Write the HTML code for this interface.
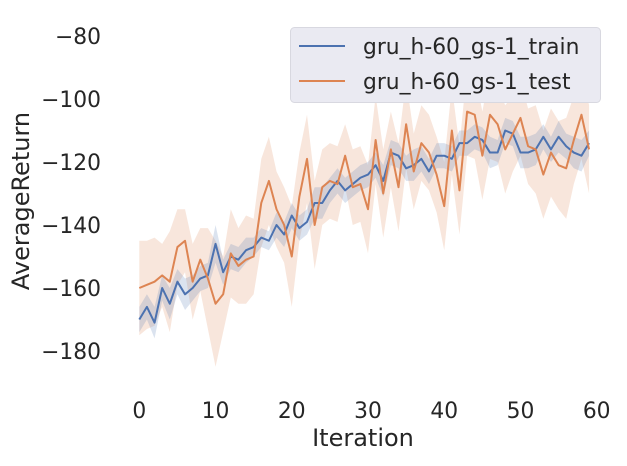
<!DOCTYPE html>
<html><head><meta charset="utf-8"><style>
html,body{margin:0;padding:0;background:#fff;}
svg text{font-family:"DejaVu Sans","Liberation Sans",sans-serif;fill:#262626;}
</style></head><body>
<svg id="chart" width="627" height="461" xmlns="http://www.w3.org/2000/svg">
<g id="bands"></g><g id="lines"></g><g id="axes"></g>
<g>
<rect x="290.5" y="27.5" width="310" height="75" rx="4" fill="#eaeaf2" stroke="#d8d8e0" stroke-width="1"/>
<line x1="299" y1="46" x2="345" y2="46" stroke="#4c72b0" stroke-width="2"/>
<text x="363" y="54" font-size="21.8">gru_h-60_gs-1_train</text>
<line x1="299" y1="81" x2="345" y2="81" stroke="#dd8452" stroke-width="2"/>
<text x="363" y="89" font-size="21.8">gru_h-60_gs-1_test</text>
</g>
</svg>
<script>
const iterations = Array.from({length:60},(_,i)=>i);
const trainMean = [-170,-166,-171,-160,-165,-158,-162,-160,-157,-156,-146,-155,-150,-151,-148,-147,-144,-145,-140,-143,-137,-141,-139,-133,-133,-129,-126,-129,-127,-125,-124,-121,-126,-117,-118,-122,-121,-119,-123,-118,-118,-119,-114,-114,-112,-113,-117,-117,-110,-111,-117,-117,-116,-112,-116,-112,-115,-117,-118,-114];
const trainSpread = [4,4,5,4,5,4,5,4,4,4,6,4,4,4,4,3,3,3,4,4,4,4,4,5,5,4,4,4,4,4,4,4,5,4,4,4,5,4,4,4,4,4,4,4,4,4,5,4,4,4,5,5,5,4,4,5,4,5,5,4];
const testMean = [-160,-159,-158,-156,-158,-147,-145,-158,-151,-157,-165,-162,-149,-153,-151,-150,-133,-126,-135,-140,-150,-131,-119,-140,-128,-126,-127,-118,-128,-127,-135,-113,-130,-116,-128,-108,-123,-114,-117,-124,-134,-110,-129,-104,-105,-118,-105,-108,-116,-111,-106,-115,-116,-124,-117,-121,-122,-113,-105,-116];
const testSpread = [15,14,14,10,16,12,10,12,10,16,20,12,14,12,14,12,14,14,12,12,16,14,14,14,12,12,12,10,12,12,14,14,14,12,14,14,12,12,12,12,14,14,14,14,14,14,14,12,14,12,12,12,14,14,14,14,16,14,14,14];
const xTicks = [0,10,20,30,40,50,60];
const yTicks = [-80,-100,-120,-140,-160,-180];

const sx = v => 139.3 + v*(596.7-139.3)/60;
const sy = v => 36 + (-80 - v)*3.15;
const NS="http://www.w3.org/2000/svg";
function mk(tag, attrs, parent){const e=document.createElementNS(NS,tag);for(const k in attrs)e.setAttribute(k,attrs[k]);parent.appendChild(e);return e;}
const bands=document.getElementById('bands'), lines=document.getElementById('lines'), axes=document.getElementById('axes');
function band(mean, spread, color, name){
  let pts = iterations.map((x,i)=>sx(x)+','+sy(mean[i]+spread[i]));
  pts = pts.concat(iterations.slice().reverse().map(x=>sx(x)+','+sy(mean[x]-spread[x])));
  const p=mk('polygon',{points:pts.join(' '),fill:color,'fill-opacity':0.2},bands);
  
  
}
function line(mean,color,name){
  const p=mk('polyline',{points:iterations.map((x,i)=>sx(x)+','+sy(mean[i])).join(' '),fill:'none',stroke:color,'stroke-width':2,'stroke-linejoin':'round'},lines);
  
  
}
band(testMean,testSpread,'#dd8452','test-confidence-band');
band(trainMean,trainSpread,'#4c72b0','train-confidence-band');
line(trainMean,'#4c72b0','train-line');
line(testMean,'#dd8452','test-line');
xTicks.forEach(t=>{const e=mk('text',{x:sx(t),y:418,'font-size':21.8,'text-anchor':'middle'},axes);e.textContent=t;
  
  });
yTicks.forEach(t=>{const e=mk('text',{x:101,y:sy(t)+8,'font-size':21.8,'text-anchor':'end'},axes);e.textContent='\u2212'+Math.abs(t);
  
  });
const xt=mk('text',{x:363,y:446,'font-size':24,'text-anchor':'middle'},axes);xt.textContent='Iteration';


const yt=mk('text',{x:0,y:0,'font-size':24,'text-anchor':'middle',transform:'translate(29,201) rotate(-90)'},axes);yt.textContent='AverageReturn';


</script>
</body></html>
